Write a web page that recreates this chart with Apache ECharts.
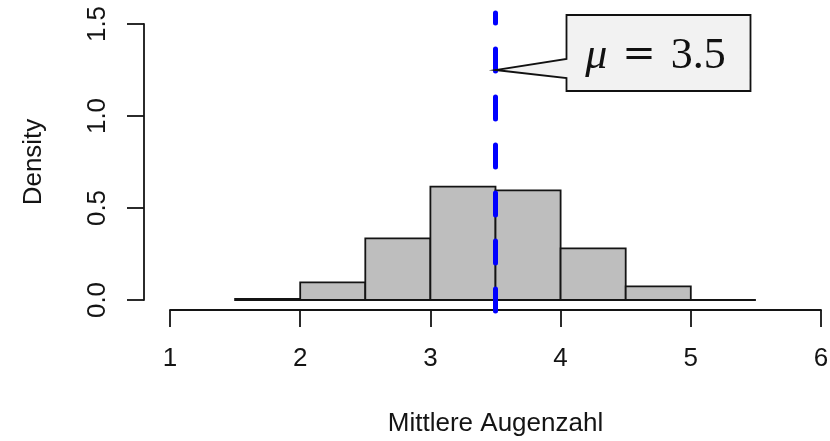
<!DOCTYPE html>
<html>
<head>
<meta charset="utf-8">
<script src="https://cdn.jsdelivr.net/npm/echarts@6/dist/echarts.min.js"></script>
<style>
html,body{margin:0;padding:0;background:#fff;}
#chart{width:830px;height:441px;}
</style>
</head>
<body>
<div id="chart"></div>
<script>
// Histogram bins (Mittlere Augenzahl) and densities
const binStarts = [1.5, 2.0, 2.5, 3.0, 3.5, 4.0, 4.5, 5.0];
const binEnds   = [2.0, 2.5, 3.0, 3.5, 4.0, 4.5, 5.0, 5.5];
const density   = [0.006, 0.096, 0.335, 0.616, 0.596, 0.281, 0.074, 0.0];
const xTicks = [1, 2, 3, 4, 5, 6];
const yTicks = [0.0, 0.5, 1.0, 1.5];
const meanValue = 3.5;
const meanLineExtent = [-0.06, 1.56];
const calloutAnchorY = 1.25;
const calloutText = ['μ', '=', '3.5'];
const xAxisTitle = 'Mittlere Augenzahl';
const yAxisTitle = 'Density';

const chart = echarts.init(document.getElementById('chart'), null, {renderer: 'canvas'});
const FONT = "'Liberation Sans', Arial, sans-serif";
const TXT = '#141414';

const histData = binStarts.map((s, i) => [s, binEnds[i], density[i]]);

const option = {
  animation: false,
  backgroundColor: '#ffffff',
  grid: {left: 170, right: 9, top: 24, bottom: 141, containLabel: false, outerBoundsMode: 'none'},
  xAxis: {
    type: 'value', min: xTicks[0], max: xTicks[xTicks.length - 1], interval: 1,
    offset: 10,
    name: xAxisTitle, nameLocation: 'middle', nameGap: 114,
    nameTextStyle: {fontFamily: FONT, fontSize: 26, color: TXT, align: 'center', verticalAlign: 'middle'},
    axisLine: {show: true, onZero: false, lineStyle: {color: '#141414', width: 1.8}},
    axisTick: {show: true, length: 17, lineStyle: {color: '#141414', width: 1.8}},
    axisLabel: {fontFamily: FONT, fontSize: 26, color: TXT, margin: 36, formatter: v => String(v)},
    splitLine: {show: false}
  },
  yAxis: {
    type: 'value', min: yTicks[0], max: yTicks[yTicks.length - 1], interval: 0.5,
    offset: 26,
    name: yAxisTitle, nameLocation: 'middle', nameGap: 110, nameRotate: 90,
    nameTextStyle: {fontFamily: FONT, fontSize: 26, color: TXT, align: 'center', verticalAlign: 'middle'},
    axisLine: {show: true, onZero: false, lineStyle: {color: '#141414', width: 1.8}},
    axisTick: {show: true, length: 17, lineStyle: {color: '#141414', width: 1.8}},
    axisLabel: {fontFamily: FONT, fontSize: 26, color: TXT, margin: 33, rotate: 90, formatter: v => v.toFixed(1)},
    splitLine: {show: false}
  },
  series: [
    {
      type: 'custom',
      name: 'hist',
      clip: false,
      data: histData,
      encode: {x: [0, 1], y: 2},
      renderItem: function (params, api) {
        const p0 = api.coord([api.value(0), api.value(2)]);
        const p1 = api.coord([api.value(1), 0]);
        return {
          type: 'rect',
          shape: {x: p0[0], y: p0[1], width: p1[0] - p0[0], height: p1[1] - p0[1]},
          style: {fill: '#bebebe', stroke: '#141414', lineWidth: 1.8}
        };
      },
      z: 2
    },
    {
      type: 'line',
      name: 'mean',
      clip: false,
      data: [[meanValue, meanLineExtent[0]], [meanValue, meanLineExtent[1]]],
      symbol: 'none',
      lineStyle: {color: '#0000ff', width: 5, type: [22, 26], cap: 'round'},
      z: 5
    },
    {
      type: 'custom',
      name: 'callout',
      clip: false,
      data: [[meanValue, calloutAnchorY]],
      renderItem: function (params, api) {
        const t = api.coord([api.value(0), api.value(1)]);
        const bx0 = t[0] + 71, bx1 = t[0] + 255, by0 = t[1] - 55, by1 = t[1] + 21;
        return {
          type: 'group',
          children: [
            {
              type: 'polygon',
              shape: {points: [[bx0, by0], [bx1, by0], [bx1, by1], [bx0, by1], [bx0, t[1] + 8], [t[0], t[1]], [bx0, t[1] - 11]]},
              style: {fill: '#f2f2f2', stroke: '#111', lineWidth: 1.8}
            },
            {
              type: 'text',
              style: {
                x: t[0] + 160, y: t[1] - 14,
                text: '{m|' + calloutText[0] + '}  {e|' + calloutText[1] + '}  {n|' + calloutText[2] + '}',
                align: 'center', verticalAlign: 'middle',
                fontSize: 30, fontFamily: "'Liberation Serif', serif", fill: '#111',
                rich: {
                  m: {fontFamily: "'Liberation Serif', serif", fontStyle: 'italic', fontSize: 44, fill: '#111'},
                  e: {fontFamily: "'DejaVu Serif', serif", fontSize: 40, fill: '#111'},
                  n: {fontFamily: "'Liberation Serif', serif", fontSize: 44, fill: '#111'}
                }
              }
            }
          ]
        };
      },
      z: 10
    }
  ]
};
chart.setOption(option);
</script>
</body>
</html>
